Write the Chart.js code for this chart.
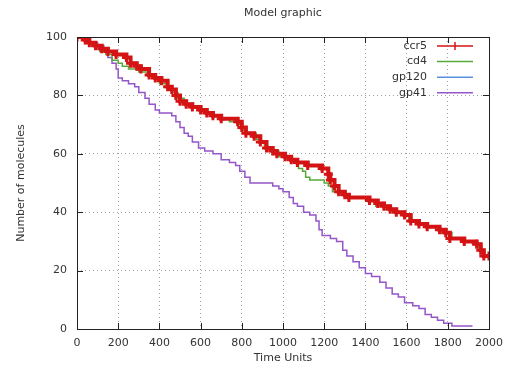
<!DOCTYPE html>
<html>
<head>
<meta charset="utf-8">
<script src="https://cdn.jsdelivr.net/npm/chart.js@4/dist/chart.umd.min.js"></script>
<style>
html,body{margin:0;padding:0;background:#fff;}
canvas{display:block;}
</style>
</head>
<body>
<canvas id="c" width="512" height="377"></canvas>
<script>
const chartTitle = "Model graphic";
const xTitle = "Time Units";
const yTitle = "Number of molecules";
const seriesNames = ["ccr5", "cd4", "gp120", "gp41"];

const ccr5T = [0,40,60,90,120,150,190,240,260,290,310,350,380,410,440,460,480,500,530,560,600,630,660,700,780,800,820,860,890,920,950,970,1010,1040,1070,1120,1190,1220,1230,1250,1270,1300,1320,1420,1460,1490,1520,1550,1590,1620,1660,1700,1760,1790,1810,1880,1940,1960,1975,2000];
const ccr5V = [100,99,98,97,96,95,94,93,91,90,89,87,86,85,83,82,80,78,77,76,75,74,73,72,71,69,67,66,64,62,61,60,59,58,57,56,55,53,51,49,47,46,45,44,43,42,41,40,39,37,36,35,34,33,31,30,29,27,25,25];

const cd4T = [0,30,60,80,110,140,170,200,220,250,300,340,370,400,440,460,490,520,550,590,620,660,700,740,780,800,820,870,890,910,950,980,1020,1050,1075,1095,1110,1130,1200,1220,1240,1270,1300,1400,1450,1490,1530,1570,1610,1660,1700,1740,1780,1820,1870,1920,1950,1970,2000];
const cd4V = [100,99,98,97,95,94,92,91,90,89,88,87,86,84,83,81,79,77,76,75,74,73,72,71,70,68,67,65,64,62,61,59,58,57,55,54,52,51,50,49,47,46,45,44,42,41,40,39,37,36,35,34,33,31,30,29,27,25,24];

const gp120T = [];
const gp120V = [];

const gp41T = [0,40,60,100,130,150,170,190,200,220,250,280,300,330,350,380,400,460,480,500,520,540,560,590,620,660,700,740,770,790,815,840,950,980,1000,1030,1050,1070,1100,1130,1160,1175,1190,1230,1260,1290,1310,1340,1370,1400,1430,1470,1500,1530,1560,1590,1630,1660,1690,1720,1750,1780,1820,1920];
const gp41V = [100,99,98,97,95,93,91,89,86,85,84,83,81,79,77,75,74,73,71,69,67,66,64,62,61,60,58,57,56,54,52,50,49,48,47,45,43,42,40,39,37,34,32,31,30,27,25,23,21,19,18,16,14,12,11,9,8,7,5,4,3,2,1,1];

const xTicks = [0,200,400,600,800,1000,1200,1400,1600,1800,2000];
const yTicks = [0,20,40,60,80,100];

const colors = ["#d41414", "#58a83a", "#5b8fdc", "#9556c8"];

function pts(t, v){ return t.map((x,i)=>({x:x, y:v[i]})); }

const FONT = "DejaVu Sans";

const framePlugin = {
  id: 'frame',
  afterDraw(chart){
    const {ctx, chartArea:a, scales:{x, y}} = chart;
    ctx.save();
    ctx.strokeStyle = '#222';
    ctx.lineWidth = 1;
    ctx.beginPath();
    xTicks.forEach(v=>{
      const p = Math.round(x.getPixelForValue(v)) + 0.5;
      ctx.moveTo(p, a.bottom); ctx.lineTo(p, a.bottom - 6);
      ctx.moveTo(p, a.top); ctx.lineTo(p, a.top + 6);
    });
    yTicks.forEach(v=>{
      const p = Math.round(y.getPixelForValue(v)) + 0.5;
      ctx.moveTo(a.left, p); ctx.lineTo(a.left + 6, p);
      ctx.moveTo(a.right, p); ctx.lineTo(a.right - 6, p);
    });
    ctx.stroke();
    ctx.strokeRect(Math.round(a.left)+0.5, Math.round(a.top)+0.5, Math.round(a.right - a.left), Math.round(a.bottom - a.top));

    ctx.fillStyle = '#333';
    ctx.font = '11px "' + FONT + '"';
    ctx.textAlign = 'center';
    ctx.textBaseline = 'middle';
    ctx.fillText(chartTitle, (a.left + a.right)/2, 13);

    const textRight = 427, lx0 = 437, lx1 = 473;
    chart.data.datasets.forEach((ds, i)=>{
      const yy = 46 + i*15.6;
      ctx.fillStyle = '#333';
      ctx.textAlign = 'right';
      ctx.fillText(ds.label, textRight, yy);
      ctx.strokeStyle = ds.borderColor;
      ctx.lineWidth = 1.5;
      ctx.beginPath();
      ctx.moveTo(lx0, yy); ctx.lineTo(lx1, yy);
      ctx.stroke();
      if (ds.pointRadius > 0) {
        ctx.beginPath();
        ctx.moveTo((lx0+lx1)/2, yy-4); ctx.lineTo((lx0+lx1)/2, yy+4);
        ctx.stroke();
      }
    });
    ctx.restore();
  }
};

const ds = [
  {label: seriesNames[0], data: pts(ccr5T, ccr5V), borderColor: colors[0], backgroundColor: colors[0], borderWidth: 4, pointRadius: 4.5, pointStyle: 'cross', pointBorderWidth: 3, stepped: true, order: 0},
  {label: seriesNames[1], data: pts(cd4T, cd4V), borderColor: colors[1], backgroundColor: colors[1], borderWidth: 1.5, pointRadius: 0, stepped: true, order: 1},
  {label: seriesNames[2], data: pts(gp120T, gp120V), borderColor: colors[2], backgroundColor: colors[2], borderWidth: 1.5, pointRadius: 0, stepped: true, order: 2},
  {label: seriesNames[3], data: pts(gp41T, gp41V), borderColor: colors[3], backgroundColor: colors[3], borderWidth: 1.5, pointRadius: 0, stepped: true, order: 3}
];

new Chart(document.getElementById('c'), {
  type: 'line',
  data: { datasets: ds },
  options: {
    responsive: false,
    animation: false,
    layout: { padding: { left: 0, right: 23, top: 37, bottom: 0 } },
    plugins: { legend: { display: false }, title: { display: false }, tooltip: { enabled: false } },
    scales: {
      x: {
        type: 'linear', min: 0, max: 2000,
        afterBuildTicks(s){ s.ticks = xTicks.map(v=>({value:v})); },
        afterFit(s){ s.height = 48; },
        grid: { color: '#a0a0a0', lineWidth: 1, drawTicks: false },
        border: { display: false, dash: [1,3] },
        ticks: { padding: 8, color: '#333', font: { family: FONT, size: 11 }, maxRotation: 0, autoSkip: false, callback: v => String(v) },
        title: { display: true, text: xTitle, color: '#333', font: { family: FONT, size: 11 }, padding: { top: 0, bottom: 12 } }
      },
      y: {
        type: 'linear', min: 0, max: 100,
        afterBuildTicks(s){ s.ticks = yTicks.map(v=>({value:v})); },
        afterFit(s){ s.width = 77; },
        grid: { color: '#a0a0a0', lineWidth: 1, drawTicks: false },
        border: { display: false, dash: [1,3] },
        ticks: { padding: 10, color: '#333', font: { family: FONT, size: 11 }, callback: v => String(v) },
        title: { display: true, text: yTitle, color: '#333', font: { family: FONT, size: 11 }, padding: { top: 15, bottom: 0 } }
      }
    }
  },
  plugins: [framePlugin]
});
</script>
</body>
</html>
